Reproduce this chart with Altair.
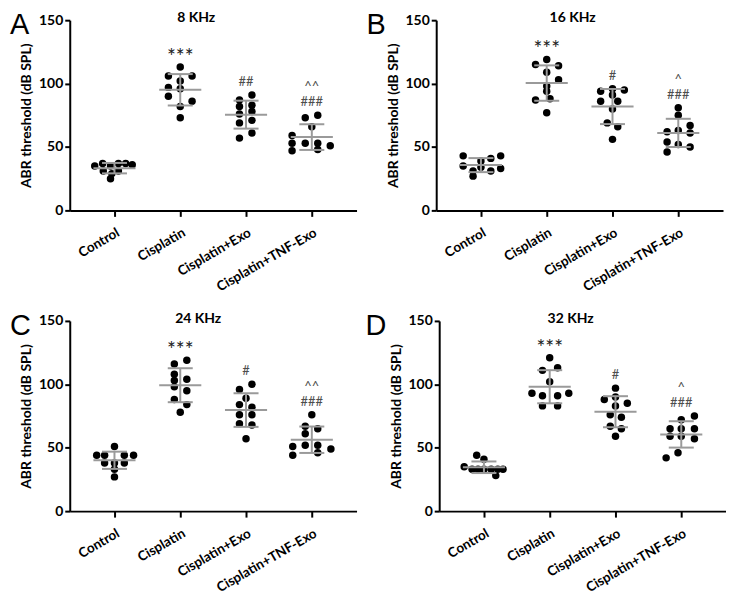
import altair as alt
import pandas as pd

GROUPS = ["Control", "Cisplatin", "Cisplatin+Exo", "Cisplatin+TNF-Exo"]
PANELS = ["A", "B", "C", "D"]
TITLES = ["8 KHz", "16 KHz", "24 KHz", "32 KHz"]

# ABR thresholds (dB SPL), one list per panel and group
A_CONTROL = [35, 37, 35, 37, 37, 36, 31, 31, 29, 25]
A_CIS = [113, 106, 106, 102, 97, 96, 90, 86, 82, 73]
A_EXO = [87, 91, 82, 83, 76, 78, 69, 71, 61, 57]
A_TNF = [73, 75, 66, 59, 53, 53, 51, 47, 48, 53]

B_CONTROL = [43, 39, 41, 43, 35, 34, 33, 31, 31, 27]
B_CIS = [115, 119, 114, 109, 103, 98, 94, 87, 88, 77]
B_EXO = [94, 96, 95, 91, 86, 86, 80, 69, 66, 56]
B_TNF = [81, 75, 67, 62, 63, 61, 54, 52, 50, 46]

C_CONTROL = [51, 44, 44, 44, 44, 38, 38, 38, 33, 27]
C_CIS = [116, 119, 108, 103, 104, 98, 95, 88, 84, 78]
C_EXO = [100, 96, 89, 84, 82, 76, 76, 69, 68, 57]
C_TNF = [76, 67, 65, 61, 51, 52, 52, 44, 46, 49]

D_CONTROL = [44, 41, 35, 33, 33, 33, 33, 33, 33, 28]
D_CIS = [121, 113, 111, 102, 93, 91, 91, 93, 83, 83]
D_EXO = [97, 88, 90, 85, 83, 76, 74, 67, 65, 59]
D_TNF = [72, 75, 65, 65, 65, 59, 59, 57, 46, 42]

# beeswarm slot of each dot (fraction of the category step)
A_CONTROL_SLOT = [-0.30, -0.18, -0.06, 0.06, 0.17, 0.27, -0.17, 0.06, -0.04, -0.06]
A_CIS_SLOT = [0, -0.18, 0.18, 0, -0.18, 0, -0.18, 0.18, 0, 0]
A_EXO_SLOT = [-0.10, 0.09, -0.10, 0.09, -0.10, 0.09, -0.10, 0.09, 0.09, -0.10]
A_TNF_SLOT = [-0.10, 0.09, 0, -0.30, -0.10, 0.09, 0.28, -0.30, 0.09, -0.30]

B_CONTROL_SLOT = [-0.27, 0, 0.15, 0.30, -0.27, 0, 0.30, -0.12, 0.15, -0.12]
B_CIS_SLOT = [-0.17, 0, 0.18, 0, 0.18, 0, 0, -0.17, 0.05, 0]
B_EXO_SLOT = [-0.18, 0, 0.18, 0, -0.18, 0.08, 0, -0.08, 0.08, 0]
B_TNF_SLOT = [0, 0, 0.18, -0.17, 0, 0.18, -0.17, 0, 0.18, -0.17]

C_CONTROL_SLOT = [0, -0.27, -0.15, 0.15, 0.29, -0.15, 0, 0.15, 0, 0]
C_CIS_SLOT = [-0.09, 0.10, -0.09, -0.09, 0.10, -0.09, 0.10, -0.09, 0.10, 0]
C_EXO_SLOT = [0.09, -0.10, 0, -0.10, 0.09, -0.10, 0.09, -0.10, 0.09, 0]
C_TNF_SLOT = [0, -0.10, 0.09, -0.10, -0.29, -0.10, 0.09, -0.29, 0.09, 0.29]

D_CONTROL_SLOT = [-0.11, 0, -0.30, -0.18, -0.09, 0, 0.11, 0.21, 0.29, 0.18]
D_CIS_SLOT = [0, 0.12, -0.11, 0, -0.27, -0.11, 0.12, 0.29, -0.11, 0.12]
D_EXO_SLOT = [0, -0.17, 0, 0.18, 0, -0.08, 0.09, -0.08, 0.09, 0]
D_TNF_SLOT = [0, 0.20, -0.17, 0, 0.20, -0.17, 0, 0.20, -0.05, -0.23]

# significance marks per group
STARS = ["", "***", "", ""]
HASHES = {"A": ["", "", "##", "###"], "B": ["", "", "#", "###"],
          "C": ["", "", "#", "###"], "D": ["", "", "#", "###"]}
CARETS = {"A": ["", "", "", "^^"], "B": ["", "", "", "^"],
          "C": ["", "", "", "^^"], "D": ["", "", "", "^"]}

VALUES = {
    "A": [A_CONTROL, A_CIS, A_EXO, A_TNF],
    "B": [B_CONTROL, B_CIS, B_EXO, B_TNF],
    "C": [C_CONTROL, C_CIS, C_EXO, C_TNF],
    "D": [D_CONTROL, D_CIS, D_EXO, D_TNF],
}
SLOTS = {
    "A": [A_CONTROL_SLOT, A_CIS_SLOT, A_EXO_SLOT, A_TNF_SLOT],
    "B": [B_CONTROL_SLOT, B_CIS_SLOT, B_EXO_SLOT, B_TNF_SLOT],
    "C": [C_CONTROL_SLOT, C_CIS_SLOT, C_EXO_SLOT, C_TNF_SLOT],
    "D": [D_CONTROL_SLOT, D_CIS_SLOT, D_EXO_SLOT, D_TNF_SLOT],
}

rows = []
for p in PANELS:
    for gi, g in enumerate(GROUPS):
        for v, s in zip(VALUES[p][gi], SLOTS[p][gi]):
            rows.append({"panel": p, "group": g, "gi": gi, "value": v, "slot": s,
                         "stars": STARS[gi], "hashes": HASHES[p][gi], "carets": CARETS[p][gi]})
df = pd.DataFrame(rows)

GRAY = "#9a9a9a"
FONT = "Lato"
W, H = 288, 191

label_expr = "[" + ",".join("'" + g + "'" for g in GROUPS) + "][datum.value]"
xscale = alt.Scale(domain=[-0.68, 3.68], nice=False, zero=False)
yscale = alt.Scale(domain=[0, 150], nice=False, zero=True)
xaxis = alt.Axis(values=[0, 1, 2, 3], labelExpr=label_expr, labelAngle=-30,
                 labelAlign="right", labelBaseline="top", labelFontSize=13.5,
                 labelPadding=9, tickSize=6, title=None, labelOverlap=False,
                 grid=False)
yaxis = alt.Axis(values=[0, 50, 100, 150], tickSize=5, labelPadding=2,
                 labelFontSize=14, title="ABR threshold (dB SPL)",
                 titleFontSize=14, titlePadding=5, grid=False)


def X(f):
    return alt.X(f, type="quantitative", scale=xscale, axis=xaxis)


def Y(f):
    return alt.Y(f, type="quantitative", scale=yscale, axis=yaxis)


def panel(p, title, letter_dx, title_dx):
    base = alt.Chart(df[df.panel == p])
    pts = base.transform_calculate(xp="datum.gi + datum.slot").mark_circle(
        size=56, color="black", opacity=1).encode(x=X("xp"), y=Y("value"))
    stats = base.transform_aggregate(
        m="mean(value)", s="stdev(value)", groupby=["gi"]
    ).transform_calculate(
        lo="datum.m - datum.s", hi="datum.m + datum.s",
        xl="datum.gi - 0.32", xr="datum.gi + 0.32",
        cl="datum.gi - 0.19", cr="datum.gi + 0.19")
    mean_r = stats.mark_rule(color=GRAY, strokeWidth=2).encode(
        x=X("xl"), x2="xr:Q", y=Y("m"))
    sd_r = stats.mark_rule(color=GRAY, strokeWidth=2).encode(
        x=X("gi"), y=Y("lo"), y2="hi:Q")
    cap_hi = stats.mark_rule(color=GRAY, strokeWidth=2).encode(
        x=X("cl"), x2="cr:Q", y=Y("hi"))
    cap_lo = stats.mark_rule(color=GRAY, strokeWidth=2).encode(
        x=X("cl"), x2="cr:Q", y=Y("lo"))
    ann = base.transform_aggregate(
        ymax="max(value)", groupby=["gi", "stars", "hashes", "carets"])
    stars = ann.mark_text(font=FONT, fontSize=21, color="#222222",
                          baseline="alphabetic", dy=-3).encode(
        x=X("gi"), y=Y("ymax"), text="stars:N")
    hashes = ann.mark_text(font=FONT, fontSize=13, color="#4d4d4d",
                           baseline="alphabetic", dy=-9).encode(
        x=X("gi"), y=Y("ymax"), text="hashes:N")
    carets = ann.mark_text(font=FONT, fontSize=13, color="#4d4d4d",
                           baseline="alphabetic", dy=-24).encode(
        x=X("gi"), y=Y("ymax"), text="carets:N")
    ttl = alt.Chart(pd.DataFrame({"t": [title]})).mark_text(
        font=FONT, fontSize=14, fontWeight="bold", color="black",
        baseline="middle", align="center").encode(
        x=alt.value(W / 2 + title_dx), y=alt.value(-2), text="t:N")
    let = alt.Chart(pd.DataFrame({"t": [p]})).mark_text(
        font="Liberation Sans", fontSize=29, color="black",
        baseline="top", align="left").encode(
        x=alt.value(letter_dx), y=alt.value(-9), text="t:N")
    return alt.layer(pts, mean_r, sd_r, cap_hi, cap_lo, stars, hashes, carets,
                     ttl, let).properties(width=W, height=H)


pA = panel("A", TITLES[0], -60, -17)
pB = panel("B", TITLES[1], -70, -7)
pC = panel("C", TITLES[2], -60, -15)
pD = panel("D", TITLES[3], -74, -12)

row1 = alt.hconcat(pA, pB, spacing=10)
row2 = alt.hconcat(pC, pD, spacing=9)
chart = alt.vconcat(row1, row2, spacing=18).properties(
    padding={"left": 2, "top": 2, "right": 0, "bottom": 0}
).configure_view(
    stroke=None
).configure_axis(
    domainColor="black", tickColor="black", labelColor="black", titleColor="black",
    domainWidth=2, tickWidth=2, labelFont=FONT, titleFont=FONT,
    labelFontWeight="bold", titleFontWeight="bold"
)

chart.save("out.html", embed_options={"renderer": "svg", "actions": False})
